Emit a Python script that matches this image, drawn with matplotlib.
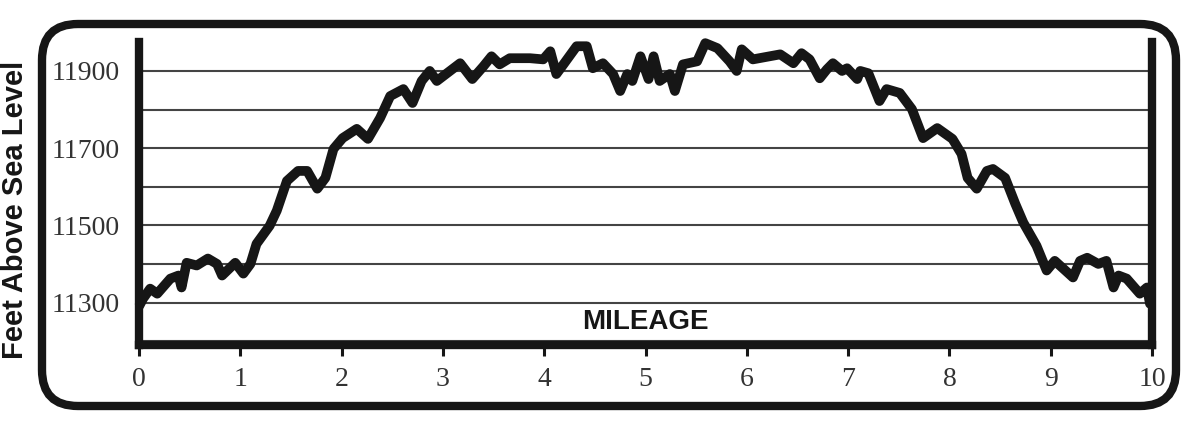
"""Elevation profile, feet above sea level vs. mileage."""

import matplotlib
matplotlib.use('Agg')
import matplotlib.pyplot as plt
from matplotlib.patches import FancyBboxPatch
from matplotlib.ticker import MultipleLocator

# profile
mileage = [0.00, 0.04, 0.11, 0.18, 0.31, 0.39, 0.42, 0.47, 0.57, 0.68, 0.77,
           0.82, 0.95, 1.03, 1.10, 1.16, 1.29, 1.36, 1.46, 1.57, 1.66, 1.76,
           1.84, 1.92, 2.01, 2.15, 2.26, 2.38, 2.48, 2.61, 2.70, 2.79, 2.87,
           2.94, 3.04, 3.17, 3.29, 3.40, 3.48, 3.56, 3.66, 3.86, 3.99, 4.06,
           4.12, 4.19, 4.32, 4.42, 4.48, 4.58, 4.68, 4.75, 4.82, 4.87, 4.95,
           5.03, 5.08, 5.14, 5.24, 5.29, 5.37, 5.51, 5.59, 5.71, 5.83, 5.90,
           5.95, 6.06, 6.33, 6.46, 6.54, 6.62, 6.72, 6.79, 6.85, 6.94, 6.99,
           7.09, 7.12, 7.20, 7.31, 7.38, 7.51, 7.63, 7.74, 7.88, 8.03, 8.12,
           8.18, 8.27, 8.37, 8.43, 8.55, 8.65, 8.73, 8.86, 8.96, 9.04, 9.22,
           9.29, 9.36, 9.47, 9.55, 9.62, 9.67, 9.75, 9.88, 9.95, 9.98, 10.00]
elevation = [11290, 11310, 11336, 11323, 11362, 11370, 11339, 11403, 11396,
             11414, 11400, 11370, 11403, 11375, 11400, 11452, 11499, 11538,
             11615, 11641, 11641, 11595, 11623, 11698, 11726, 11750, 11724,
             11778, 11835, 11853, 11817, 11874, 11900, 11874, 11894, 11920,
             11879, 11912, 11938, 11917, 11933, 11933, 11930, 11951, 11892,
             11917, 11964, 11964, 11907, 11920, 11892, 11848, 11892, 11874,
             11938, 11879, 11938, 11874, 11892, 11848, 11917, 11925, 11972,
             11959, 11925, 11900, 11956, 11930, 11943, 11920, 11946, 11930,
             11881, 11904, 11920, 11900, 11907, 11879, 11900, 11894, 11822,
             11853, 11843, 11801, 11726, 11752, 11724, 11685, 11623, 11595,
             11641, 11646, 11623, 11556, 11507, 11447, 11383, 11408, 11365,
             11408, 11416, 11400, 11408, 11339, 11370, 11362, 11323, 11339,
             11297, 11297]

x_ticks = list(range(0, 11))
y_labeled = [11300, 11500, 11700, 11900]

INK = '#161616'
SERIF = ['Liberation Serif', 'DejaVu Serif']
BOLD = ['Liberation Sans', 'DejaVu Sans']

W, H = 1200, 429
fig = plt.figure(figsize=(W / 100, H / 100), dpi=100)
fig.patch.set_facecolor('white')

# background layer in pixel units for the rounded frame
bg = fig.add_axes([0, 0, 1, 1])
bg.set_xlim(0, W)
bg.set_ylim(H, 0)
bg.set_axis_off()
frame = FancyBboxPatch((42 + 36, 24 + 36), 1176 - 42 - 72, 406 - 24 - 72,
                       boxstyle='round,pad=36', fc='white', ec=INK, lw=6)
bg.add_patch(frame)
bg.text(15, 210, 'Feet Above Sea Level', rotation=90, ha='center',
        va='center', fontsize=21, fontweight='bold', family=BOLD,
        color=INK)

ax = fig.add_axes([139 / W, 1 - 345 / H, (1152 - 139) / W, (345 - 42) / H])
ax.set_facecolor('white')
ax.plot(mileage, elevation, color=INK, lw=7, solid_joinstyle='round',
        solid_capstyle='butt', zorder=3, clip_on=False)

ax.set_xlim(0, 10)
ax.set_ylim(11190, 11975)
ax.set_xticks(x_ticks)
ax.set_yticks(y_labeled)
ax.yaxis.set_minor_locator(MultipleLocator(100))
ax.grid(axis='y', which='both', color='#444444', lw=1.5, zorder=1)
ax.set_axisbelow(True)

for side in ['left', 'right', 'bottom']:
    ax.spines[side].set_linewidth(6)
    ax.spines[side].set_color(INK)
ax.spines['top'].set_visible(False)

ax.tick_params(axis='y', which='both', length=0, pad=14)
ax.tick_params(axis='x', length=8, width=2.2, color=INK, pad=8)
for lab in ax.get_xticklabels() + ax.get_yticklabels():
    lab.set_fontfamily(SERIF)
    lab.set_fontsize(20)
    lab.set_color('#333333')

ax.text(0.5, 0.075, 'MILEAGE', transform=ax.transAxes, ha='center',
        va='center', fontsize=20, fontweight='bold', family=BOLD,
        color=INK, zorder=4)

fig.savefig('out.png', dpi=100)
